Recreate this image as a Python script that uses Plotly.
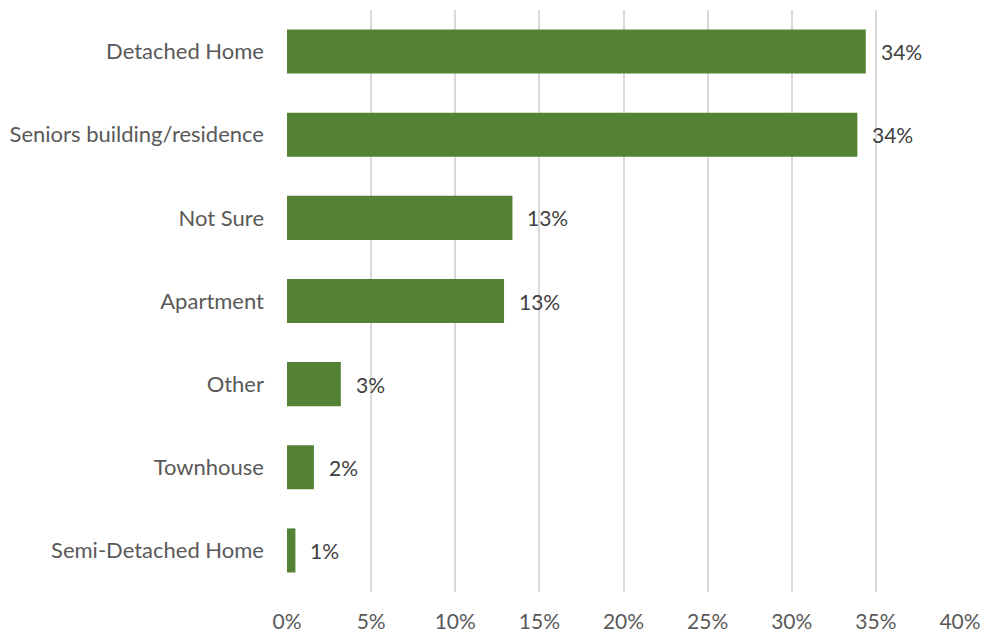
import plotly.graph_objects as go

categories = ["Detached Home", "Seniors building/residence", "Not Sure", "Apartment",
              "Other", "Townhouse", "Semi-Detached Home"]
values = [34.4, 33.9, 13.4, 12.9, 3.2, 1.6, 0.5]
labels = ["34%", "34%", "13%", "13%", "3%", "2%", "1%"]
tick_vals = [0, 5, 10, 15, 20, 25, 30, 35, 40]
tick_text = [f"{v}%" for v in tick_vals]

FONT = "Lato, Open Sans, sans-serif"

fig = go.Figure()
fig.add_trace(
    go.Bar(
        x=values,
        y=categories,
        orientation="h",
        marker={"color": "#548235", "line": {"width": 0}},
        hoverinfo="x+y",
    )
)

for v, c, t in zip(values, categories, labels):
    fig.add_annotation(
        x=v, y=c, text=t, showarrow=False, xanchor="left", xshift=13,
        font={"family": FONT, "size": 21, "color": "#404040"},
    )

fig.update_layout(
    width=982, height=634,
    margin={"l": 287, "r": 22, "t": 10, "b": 42, "autoexpand": False},
    plot_bgcolor="white", paper_bgcolor="white",
    bargap=0.47,
    showlegend=False,
    font={"family": FONT, "size": 22, "color": "#595959"},
)
fig.update_xaxes(
    range=[0, 40], tickvals=tick_vals, ticktext=tick_text,
    showgrid=True, gridcolor="#d9d9d9", gridwidth=1.5,
    zeroline=False, showline=False, ticks="", ticklabelstandoff=15,
    tickfont={"size": 21}, automargin=False,
)
fig.update_yaxes(
    categoryorder="array", categoryarray=categories, autorange="reversed",
    showgrid=False, zeroline=False, showline=False, ticks="", ticklabelstandoff=22,
    automargin=False,
)

# drop the default page margin so the figure sits at the window's corner
fig.write_html(
    "out.html",
    config={"displayModeBar": False},
    post_script="document.body.style.margin='0';document.body.style.overflow='hidden';",
)
